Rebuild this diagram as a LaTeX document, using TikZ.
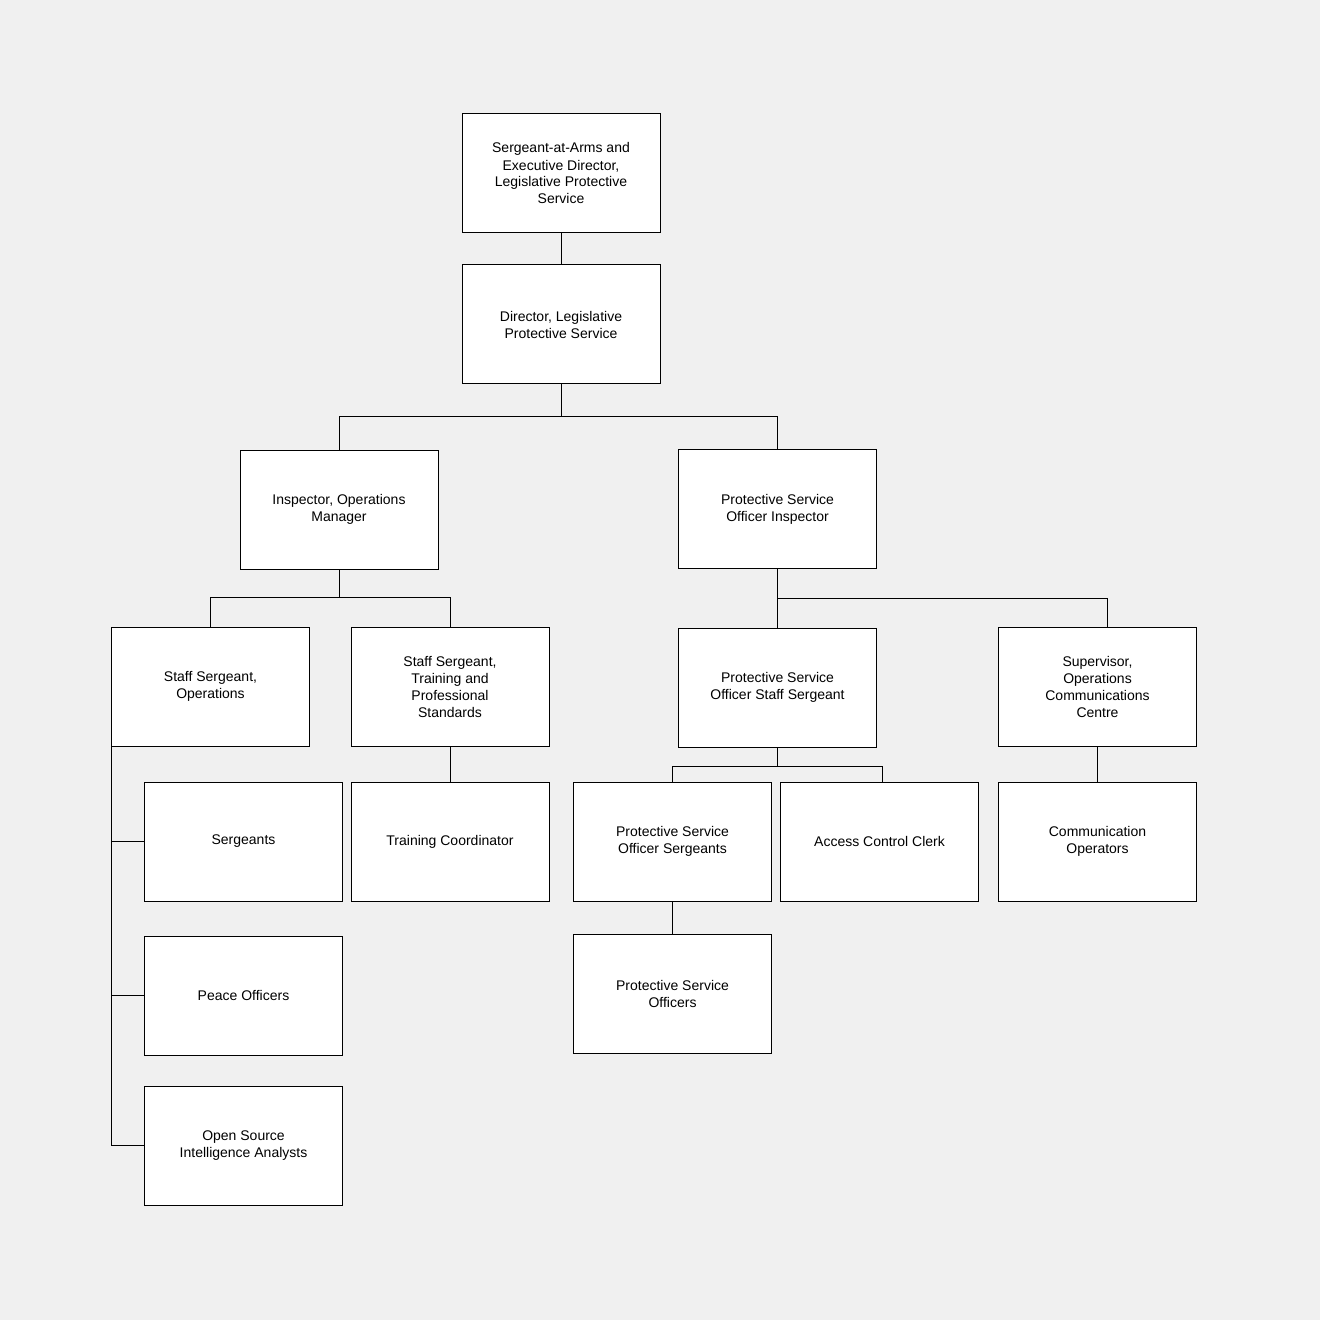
\documentclass[tikz,border=0pt]{standalone}
\usepackage{fontspec}
\setmainfont{Liberation Sans}
\usetikzlibrary{positioning, calc}

\begin{document}
\begin{tikzpicture}[x=0.5pt, y=-0.5pt,
	box/.style={rectangle, draw, fill=white, line width=0.5pt, minimum width=99pt, minimum height=59.5pt, align=center, font=\fontsize{7}{8.5}\selectfont, inner sep=0pt},
	link/.style={draw, line width=0.5pt}]
	\fill[gray!12] (0,0) rectangle (1320,1320);
	\useasboundingbox (0,0) rectangle (1320,1320);
	
	\node[box] (saa) at (561,173.5) {Sergeant-at-Arms and\\Executive Director,\\Legislative Protective\\Service};
	\node[box] (dir) at (561,324.5) {Director, Legislative\\Protective Service};
	
	\node[box] (insp) at (339,509.5) {Inspector, Operations\\Manager};
	\node[box] (psoi) at (777.5,509) {Protective Service\\Officer Inspector};
	
	\node[box] (ssops) at (210.5,686.5) {Staff Sergeant,\\Operations};
	\node[box] (sstrain) at (450,686.5) {Staff Sergeant,\\Training and\\Professional\\Standards};
	\node[box] (psoss) at (777.5,687.5) {Protective Service\\Officer Staff Sergeant};
	\node[box] (sup) at (1097.5,686.5) {Supervisor,\\Operations\\Communications\\Centre};
	
	\node[box] (sgts) at (243.5,841.5) {Sergeants};
	\node[box] (tc) at (450,841.5) {Training Coordinator};
	\node[box] (psosgts) at (672.5,841.5) {Protective Service\\Officer Sergeants};
	\node[box] (acc) at (879.5,841.5) {Access Control Clerk};
	\node[box] (comm) at (1097.5,841.5) {Communication\\Operators};
	
	\node[box] (peace) at (243.5,995.5) {Peace Officers};
	\node[box] (pso) at (672.5,993.5) {Protective Service\\Officers};
	\node[box] (osint) at (243.5,1145.5) {Open Source\\Intelligence Analysts};
	
	% reporting lines
	\draw[link] (saa) -- (dir);
	\draw[link] (dir.south) -- ++(0,32) -| (insp.north);
	\draw[link] (dir.south) -- ++(0,32) -| (psoi.north);
	\draw[link] (insp.south) -- ++(0,28) -| (ssops.north);
	\draw[link] (insp.south) -- ++(0,28) -| (sstrain.north);
	\draw[link] (psoi.south) -- (psoss.north);
	\draw[link] (psoi.south) -- ++(0,29) -| ([xshift=5pt]sup.north);
	\draw[link] (sstrain) -- (tc);
	\draw[link] (psoss.south) -- ++(0,19) -| (psosgts.north);
	\draw[link] (psoss.south) -- ++(0,19) -| ([xshift=1.5pt]acc.north);
	\draw[link] (sup) -- (comm);
	\draw[link] (psosgts) -- (pso);
	
	\draw[link] (ssops.south west) |- (osint.west);
	\draw[link] (sgts.west) -- ++(-33,0);
	\draw[link] (peace.west) -- ++(-33,0);
\end{tikzpicture}
\end{document}
